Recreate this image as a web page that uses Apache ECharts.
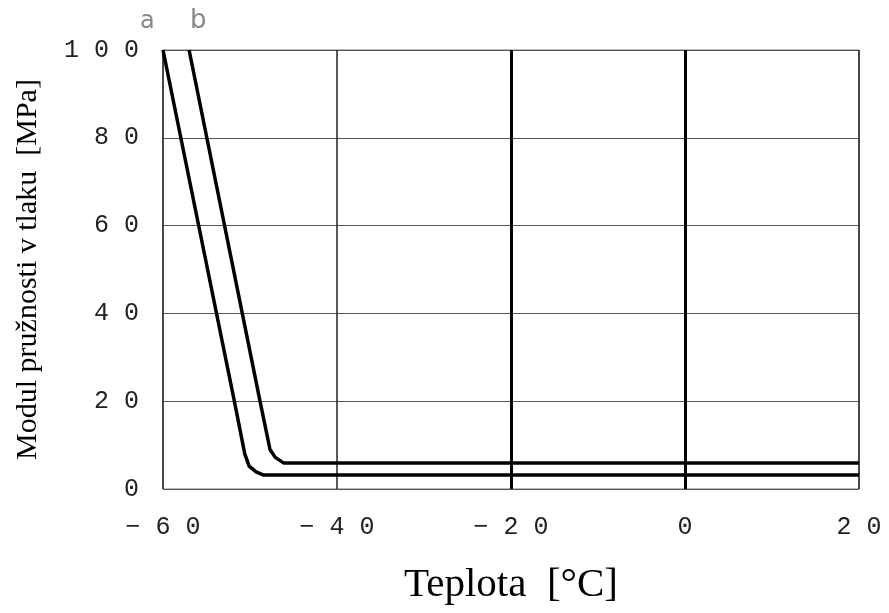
<!DOCTYPE html>
<html><head><meta charset="utf-8">
<script src="https://cdn.jsdelivr.net/npm/echarts@6/dist/echarts.min.js"></script>
<style>html,body{margin:0;padding:0;background:#fff}#c{width:889px;height:613px}</style>
</head><body><div id="c"></div>
<script>
const curveA = [[-60,100],[-51.8,20],[-50.6,8],[-50.1,5.2],[-49.3,3.9],[-48.5,3.2],[20,3.2]];
const curveB = [[-57,100],[-48.85,20],[-47.7,9],[-47.1,7.2],[-46.1,5.9],[20,5.9]];
const xTicks = [-60,-40,-20,0,20];
const yTicks = [0,20,40,60,80,100];
const thickX = [-20,0];
const curveNames = ['a','b'];

function spaced(v){
  return String(v).replace('-', '−').split('').join(' ');
}
const chart = echarts.init(document.getElementById('c'));
chart.setOption({
  backgroundColor:'#fff',
  animation:false,
  grid:{left:163,right:30,top:50,bottom:124,containLabel:false,outerBoundsMode:'none',
        show:true,borderColor:'#777',borderWidth:1},
  xAxis:{type:'value',min:xTicks[0],max:xTicks[xTicks.length-1],interval:20,
    name:'Teplota  [°C]',nameLocation:'middle',nameGap:76,
    nameTextStyle:{fontFamily:'Liberation Serif',fontSize:41,color:'#000'},
    axisLine:{show:false},axisTick:{show:false},
    axisLabel:{margin:26,fontFamily:'Liberation Mono',fontSize:25,color:'#222',formatter:spaced},
    splitLine:{show:true,lineStyle:{color:'#222',width:1.5}}},
  yAxis:{type:'value',min:yTicks[0],max:yTicks[yTicks.length-1],interval:20,
    name:'Modul pružnosti v tlaku  [MPa]',nameLocation:'middle',nameGap:120,
    nameTextStyle:{fontFamily:'Liberation Serif',fontSize:30,color:'#000'},
    axisLine:{show:false},axisTick:{show:false},
    axisLabel:{margin:24,fontFamily:'Liberation Mono',fontSize:25,color:'#222',formatter:spaced},
    splitLine:{show:true,lineStyle:{color:'#555',width:1.2}}},
  graphic:[
    {type:'text',left:140,top:10,style:{text:curveNames[0],font:'24px DejaVu Sans',fill:'#888'}},
    {type:'text',left:190,top:8,style:{text:curveNames[1],font:'26px DejaVu Sans',fill:'#888'}}
  ],
  series:[
    {type:'line',data:curveA,showSymbol:false,symbol:'none',lineStyle:{color:'#000',width:3.5},z:5,
     markLine:{silent:true,symbol:'none',label:{show:false},lineStyle:{color:'#000',width:3,type:'solid'},
       data:thickX.map(v=>({xAxis:v}))}},
    {type:'line',data:curveB,showSymbol:false,symbol:'none',lineStyle:{color:'#000',width:3.5},z:5}
  ]
});
</script></body></html>
